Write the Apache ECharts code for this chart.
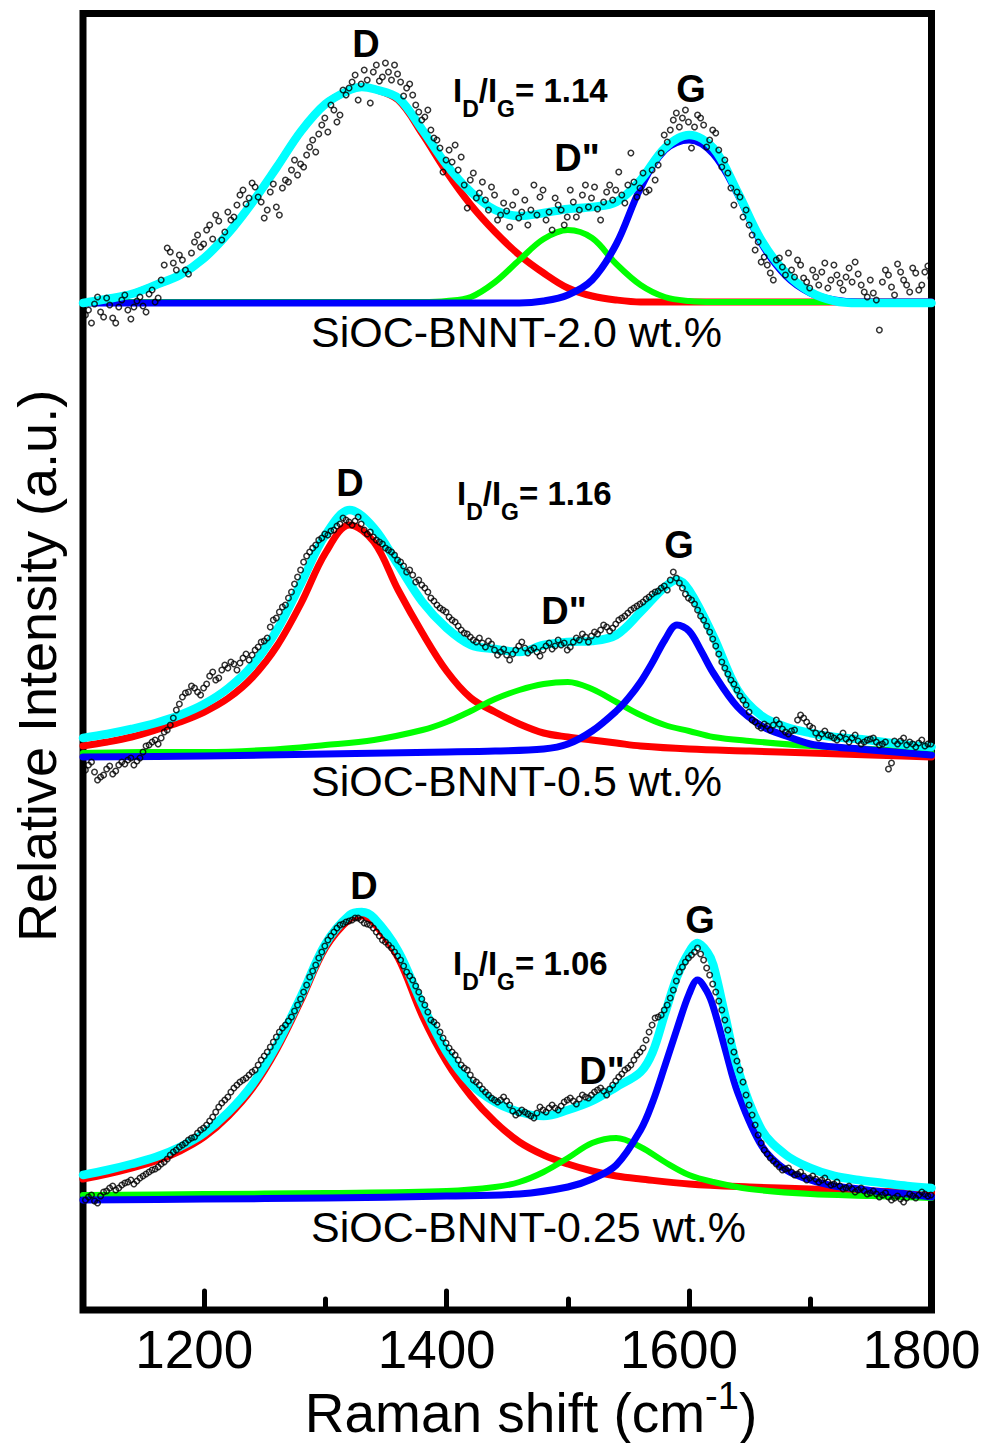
<!DOCTYPE html>
<html><head><meta charset="utf-8">
<script src="https://cdn.jsdelivr.net/npm/echarts@6/dist/echarts.min.js"></script>
<style>html,body{margin:0;padding:0;background:#fff}#c{width:985px;height:1443px}</style>
</head><body><div id="c"></div><script>
// ---------- DATA (Raman shift in cm-1, stacked intensity in a.u.) ----------
const majorTicks = [1200, 1400, 1600];
const minorTicks = [1300, 1500, 1700];
const tickLabels = [1200, 1400, 1600, 1800];

// measured wavenumbers, first and second interleaved sets (shared by all three spectra)
const ramanShift = [
1102,1107,1112,1117,1122,1127,1132,1137,1142,1147,
1152,1157,1162,1167,1172,1177,1182,1187,1192,1197,
1202,1207,1212,1217,1222,1227,1232,1237,1242,1247,
1252,1257,1262,1267,1272,1277,1282,1287,1292,1297,
1302,1307,1312,1317,1322,1327,1332,1337,1342,1347,
1352,1357,1362,1367,1372,1377,1382,1387,1392,1397,
1402,1407,1412,1417,1422,1427,1432,1437,1442,1447,
1452,1457,1462,1467,1472,1477,1482,1487,1492,1497,
1502,1507,1512,1517,1522,1527,1532,1537,1542,1547,
1552,1557,1562,1567,1572,1577,1582,1587,1592,1597,
1602,1607,1612,1617,1622,1627,1632,1637,1642,1647,
1652,1657,1662,1667,1672,1677,1682,1687,1692,1697,
1702,1707,1712,1717,1722,1727,1732,1737,1742,1747,
1752,1757,1762,1767,1772,1777,1782,1787,1792,1797];
const ramanShiftB = [
1104.5,1109.5,1114.5,1119.5,1124.5,1129.5,1134.5,1139.5,1144.5,1149.5,
1154.5,1159.5,1164.5,1169.5,1174.5,1179.5,1184.5,1189.5,1194.5,1199.5,
1204.5,1209.5,1214.5,1219.5,1224.5,1229.5,1234.5,1239.5,1244.5,1249.5,
1254.5,1259.5,1264.5,1269.5,1274.5,1279.5,1284.5,1289.5,1294.5,1299.5,
1304.5,1309.5,1314.5,1319.5,1324.5,1329.5,1334.5,1339.5,1344.5,1349.5,
1354.5,1359.5,1364.5,1369.5,1374.5,1379.5,1384.5,1389.5,1394.5,1399.5,
1404.5,1409.5,1414.5,1419.5,1424.5,1429.5,1434.5,1439.5,1444.5,1449.5,
1454.5,1459.5,1464.5,1469.5,1474.5,1479.5,1484.5,1489.5,1494.5,1499.5,
1504.5,1509.5,1514.5,1519.5,1524.5,1529.5,1534.5,1539.5,1544.5,1549.5,
1554.5,1559.5,1564.5,1569.5,1574.5,1579.5,1584.5,1589.5,1594.5,1599.5,
1604.5,1609.5,1614.5,1619.5,1624.5,1629.5,1634.5,1639.5,1644.5,1649.5,
1654.5,1659.5,1664.5,1669.5,1674.5,1679.5,1684.5,1689.5,1694.5,1699.5,
1704.5,1709.5,1714.5,1719.5,1724.5,1729.5,1734.5,1739.5,1744.5,1749.5,
1754.5,1759.5,1764.5,1769.5,1774.5,1779.5,1784.5,1789.5,1794.5,1799.5];

// SiOC-BNNT-2.0 wt.% (top)
const measured20 = [
995,987,1013,993,1005,987,1010,1000,1003,1013,
998,1020,1012,1045,1058,1040,1050,1036,1068,1063,
1080,1071,1089,1078,1090,1105,1120,1112,1123,1108,
1100,1126,1095,1130,1140,1135,1143,1163,1158,1185,
1178,1200,1195,1215,1228,1210,1240,1207,1245,1233,
1238,1245,1228,1222,1215,1198,1193,1180,1170,1138,
1160,1165,1153,1102,1137,1117,1110,1123,1090,1107,
1083,1118,1098,1085,1125,1113,1090,1080,1105,1085,
1120,1093,1115,1103,1123,1090,1118,1110,1138,1107,
1157,1113,1137,1120,1130,1157,1168,1190,1183,1200,
1162,1195,1185,1170,1177,1143,1137,1105,1113,1100,
1075,1068,1053,1037,1050,1043,1057,1033,1045,1028,
1040,1025,1047,1030,1035,1020,1042,1048,1025,1013,
1017,980,1040,1023,1046,1030,1018,1037,1025,1044];
const measured20B = [
1000,1006,998,1012,992,1003,1015,991,1009,1004,
1016,1008,1030,1062,1047,1055,1040,1057,1075,1066,
1085,1095,1070,1098,1093,1115,1106,1127,1113,1092,
1118,1103,1122,1128,1150,1146,1155,1170,1176,1192,
1205,1188,1220,1222,1235,1226,1230,1238,1229,1247,
1230,1236,1214,1226,1205,1190,1200,1172,1162,1150,
1148,1140,1125,1130,1112,1128,1100,1115,1095,1099,
1105,1092,1110,1100,1095,1120,1098,1112,1100,1093,
1108,1100,1125,1112,1101,1108,1125,1120,1115,1125,
1128,1122,1118,1140,1145,1175,1180,1197,1192,1188,
1183,1192,1163,1180,1160,1150,1122,1118,1093,1085,
1060,1048,1045,1030,1052,1035,1040,1050,1032,1022,
1033,1038,1022,1045,1027,1033,1028,1036,1018,1030,
1010,1028,1035,1015,1038,1025,1042,1020,1038,1032];
const fitD_20 = [[1100,1007],[1120,1011],[1140,1016],[1160,1025],[1180,1035],[1200,1052],[1220,1077],[1240,1108],[1260,1143],[1280,1179],[1300,1206],[1320,1220],[1330,1223],[1340,1221],[1360,1210],[1380,1176],[1400,1138],[1420,1105],[1440,1078],[1460,1055],[1480,1037],[1500,1022],[1520,1014],[1540,1010],[1560,1008],[1600,1008],[1700,1008],[1800,1008]];
const fitDpp_20 = [[1100,1008],[1200,1008],[1300,1008],[1380,1008],[1400,1009],[1420,1013],[1440,1028],[1460,1050],[1480,1071],[1500,1080],[1520,1072],[1540,1046],[1560,1025],[1580,1013],[1600,1009],[1620,1008],[1700,1008],[1800,1008]];
const fitG_20 = [[1100,1007],[1200,1007],[1300,1007],[1400,1007],[1460,1007],[1480,1009],[1500,1015],[1520,1030],[1540,1066],[1560,1122],[1580,1160],[1600,1170],[1620,1156],[1640,1116],[1660,1066],[1680,1034],[1700,1017],[1720,1010],[1740,1008],[1800,1008]];
const fitSum_20 = [[1100,1007],[1120,1011],[1140,1016],[1160,1025],[1180,1035],[1200,1052],[1220,1077],[1240,1108],[1260,1143],[1280,1179],[1300,1206],[1320,1220],[1330,1223],[1340,1221],[1360,1212],[1380,1180],[1400,1145],[1420,1118],[1440,1100],[1460,1094],[1480,1097],[1500,1101],[1520,1103],[1540,1108],[1560,1130],[1580,1162],[1600,1175],[1620,1162],[1640,1118],[1660,1069],[1680,1037],[1700,1018],[1720,1009],[1740,1007],[1760,1007],[1780,1007],[1800,1007]];

// SiOC-BNNT-0.5 wt.% (middle)
const measured05 = [
540,548,530,535,544,539,548,550,545,552,
564,568,566,578,585,600,613,618,622,615,
626,638,632,645,648,640,652,650,660,668,
672,690,698,705,718,733,748,758,765,772,
775,780,786,790,785,793,780,778,770,766,
760,755,748,738,735,730,722,712,705,700,
693,688,680,676,670,672,663,666,655,661,
650,660,668,657,662,654,664,661,670,667,
663,672,676,668,678,680,683,682,690,694,
700,704,708,713,718,722,720,738,727,716,
710,700,690,678,664,648,636,626,614,605,
590,584,586,580,590,581,576,580,595,588,
582,572,579,574,570,577,568,575,566,570,
572,565,568,547,566,572,568,563,570,566];
const measured05B = [
545,538,533,541,536,545,546,552,549,558,
565,570,572,580,592,606,617,624,618,622,
634,630,640,642,646,647,656,655,663,669,
683,692,703,712,726,740,754,762,770,776,
779,784,792,788,789,786,776,773,768,762,
758,750,744,740,728,725,718,709,702,698,
690,684,677,673,668,667,669,660,658,655,
656,664,662,660,658,660,667,664,665,660,
668,670,673,674,676,685,679,686,692,697,
702,706,711,716,719,724,730,732,722,712,
706,694,684,671,656,642,630,620,610,598,
588,582,584,585,586,578,579,590,592,584,
577,576,575,572,573,571,572,569,568,571,
568,566,541,569,569,565,566,567,564,566];
const fitD_05 = [[1100,564],[1120,568],[1140,573],[1160,580],[1180,588],[1200,598],[1220,612],[1240,633],[1260,664],[1280,707],[1300,757],[1320,785],[1340,768],[1360,720],[1380,677],[1400,639],[1420,612],[1440,598],[1460,586],[1480,577],[1500,573],[1520,570],[1540,567],[1560,564],[1600,561],[1650,559],[1700,557],[1750,555],[1800,553]];
const fitDpp_05 = [[1100,557],[1150,558],[1200,558],[1250,560],[1300,565],[1340,570],[1380,580],[1400,588],[1420,599],[1440,611],[1460,620],[1480,626],[1500,628],[1520,621],[1540,608],[1560,595],[1580,585],[1600,579],[1620,573],[1650,569],[1700,564],[1750,561],[1800,557]];
const fitG_05 = [[1100,553],[1200,554],[1300,556],[1400,558],[1440,559],[1480,561],[1500,566],[1520,579],[1540,599],[1550,612],[1560,628],[1570,648],[1580,670],[1590,685],[1600,679],[1610,659],[1620,637],[1640,603],[1660,584],[1680,574],[1700,566],[1720,563],[1740,561],[1760,559],[1780,557],[1800,555]];
const fitSum_05 = [[1100,572],[1120,576],[1140,581],[1160,587],[1180,595],[1200,606],[1220,622],[1240,645],[1260,680],[1280,727],[1300,775],[1320,800],[1340,782],[1360,745],[1380,708],[1400,682],[1420,665],[1440,661],[1460,658],[1480,665],[1500,668],[1520,669],[1540,675],[1560,698],[1580,723],[1590,730],[1600,720],[1620,674],[1640,620],[1660,594],[1680,583],[1700,577],[1720,573],[1740,571],[1760,568],[1780,565],[1800,563]];

// SiOC-BNNT-0.25 wt.% (bottom)
const measured025 = [
110,115,107,118,122,120,125,128,126,132,
136,140,143,148,155,160,165,170,173,180,
185,193,203,210,218,225,230,235,240,250,
258,268,278,285,293,305,318,333,345,358,
370,378,385,388,390,392,387,385,378,370,
365,358,350,338,330,318,305,290,285,272,
262,255,245,240,230,225,218,212,208,213,
205,195,200,196,192,203,198,205,200,208,
212,206,215,212,218,222,215,225,233,240,
245,255,262,278,292,295,305,320,338,348,
355,362,350,335,318,300,280,258,240,215,
195,175,160,152,146,140,142,135,138,130,
134,128,132,125,128,121,124,118,122,116,
119,113,117,110,114,108,116,112,118,114];
const measured025B = [
113,109,114,119,124,122,127,130,129,134,
138,141,146,151,158,163,167,172,177,182,
189,198,207,213,222,228,232,238,245,254,
263,273,282,289,299,311,325,339,352,364,
374,382,386,389,392,390,386,382,374,368,
362,354,344,334,324,311,298,288,278,267,
258,250,242,235,228,221,215,210,210,209,
199,197,198,194,197,200,202,202,204,210,
209,211,213,215,220,219,221,229,236,242,
250,258,270,285,293,300,312,329,343,352,
358,356,342,326,309,290,269,249,228,205,
185,167,156,149,143,141,138,136,134,132,
131,130,128,126,124,122,121,120,119,117,
116,115,113,112,111,112,114,115,116,115];
const fitD_025 = [[1100,131],[1120,136],[1140,142],[1160,149],[1180,159],[1200,173],[1220,194],[1240,222],[1260,261],[1280,310],[1300,362],[1320,391],[1330,394],[1340,387],[1360,352],[1380,294],[1400,248],[1420,214],[1440,188],[1460,168],[1480,155],[1500,146],[1520,139],[1540,134],[1560,131],[1600,126],[1650,123],[1700,121],[1750,119],[1800,117]];
const fitDpp_025 = [[1100,115],[1200,116],[1300,117],[1400,119],[1440,123],[1460,128],[1480,138],[1500,152],[1520,167],[1540,172],[1560,163],[1580,148],[1600,135],[1620,128],[1650,121],[1700,116],[1750,114],[1800,112]];
const fitG_025 = [[1100,110],[1200,111],[1300,112],[1400,114],[1460,116],[1500,123],[1520,131],[1540,145],[1560,180],[1570,208],[1580,244],[1590,281],[1600,316],[1607,330],[1615,318],[1620,303],[1630,260],[1640,218],[1660,164],[1680,140],[1700,130],[1720,124],[1740,121],[1760,118],[1780,116],[1800,113]];
const fitSum_025 = [[1100,135],[1120,140],[1140,146],[1160,153],[1180,163],[1200,177],[1220,198],[1240,226],[1260,265],[1280,314],[1300,366],[1320,395],[1330,398],[1340,392],[1360,359],[1380,305],[1400,258],[1420,226],[1440,208],[1460,198],[1480,194],[1500,200],[1520,209],[1540,223],[1560,238],[1570,258],[1580,296],[1590,333],[1600,358],[1607,367],[1615,358],[1620,345],[1630,293],[1640,242],[1660,180],[1680,155],[1700,142],[1720,134],[1740,130],[1760,127],[1780,124],[1800,122]];

const sampleNames = ['SiOC-BNNT-2.0 wt.%', 'SiOC-BNNT-0.5 wt.%', 'SiOC-BNNT-0.25 wt.%'];
const ratios = ['1.14', '1.16', '1.06'];

// ---------- CHART ----------
const FONT = "'Liberation Sans', Arial, Helvetica, sans-serif";
const chart = echarts.init(document.getElementById('c'), null, {renderer: 'svg'});

const panels = [
  {meas: measured20, measB: measured20B, d: fitD_20, dpp: fitDpp_20, g: fitG_20, sum: fitSum_20},
  {meas: measured05, measB: measured05B, d: fitD_05, dpp: fitDpp_05, g: fitG_05, sum: fitSum_05},
  {meas: measured025, measB: measured025B, d: fitD_025, dpp: fitDpp_025, g: fitG_025, sum: fitSum_025}
];

const series = [];
function line(data, color, width, z) {
  return {type: 'line', data: data, smooth: 0.35, showSymbol: false, symbol: 'none', silent: true,
    lineStyle: {color: color, width: width, cap: 'round', join: 'round'}, z: z, xAxisIndex: 0, yAxisIndex: 0};
}
panels.forEach(p => {
  series.push(line(p.d, '#ff0000', 7, 3));
  series.push(line(p.dpp, '#00ff00', 6, 3));
  series.push(line(p.g, '#0000ff', 7, 4));
  series.push(line(p.sum, '#00ffff', 8.5, 5));
  const pts = ramanShift.map((x, i) => [x, p.meas[i]]).concat(ramanShiftB.map((x, i) => [x, p.measB[i]]));
  series.push({type: 'scatter', data: pts, symbol: 'circle', symbolSize: 5.5,
    silent: true, itemStyle: {color: 'rgba(255,255,255,0)', borderColor: '#000', borderWidth: 1.5}, z: 6,
    xAxisIndex: 0, yAxisIndex: 0});
});

// text layout (pixel positions)
const peakLabelPos = [
  [[366, 44, 'D'], [691, 89, 'G'], [577, 158, 'D"']],
  [[350, 483, 'D'], [679, 545, 'G'], [564, 611, 'D"']],
  [[364, 886, 'D'], [700, 920, 'G'], [602, 1071, 'D"']]
];
const ratioPos = [[453, 74], [457, 477], [453, 947]];
const namePos = [[311, 332], [311, 781], [311, 1227]];

const graphic = [];
peakLabelPos.forEach(arr => arr.forEach(([x, y, t]) => graphic.push({
  type: 'text', x: x, y: y, silent: true,
  style: {text: t, fill: '#000', fontSize: 38, fontWeight: 'bold', fontFamily: FONT, align: 'center', verticalAlign: 'middle'}
})));
ratioPos.forEach(([x, y], i) => graphic.push({
  type: 'text', x: x, y: y, silent: true,
  style: {text: '{m|I}{s|D}{m|/I}{s|G}{m|= ' + ratios[i] + '}', align: 'left', verticalAlign: 'top',
    rich: {
      m: {fontSize: 33, fontWeight: 'bold', fontFamily: FONT, fill: '#000', lineHeight: 33, verticalAlign: 'top'},
      s: {fontSize: 23, fontWeight: 'bold', fontFamily: FONT, fill: '#000', lineHeight: 46, verticalAlign: 'bottom'}
    }}
}));
namePos.forEach(([x, y], i) => graphic.push({
  type: 'text', x: x, y: y, silent: true,
  style: {text: sampleNames[i], fill: '#000', fontSize: 43, fontFamily: FONT, align: 'left', verticalAlign: 'middle'}
}));
// axis titles
graphic.push({
  type: 'text', x: 531, y: 1377, silent: true,
  style: {text: '{a|Raman shift (cm}{b|-1}{a|)}', align: 'center', verticalAlign: 'top',
    rich: {
      a: {fontSize: 55, fontFamily: FONT, fill: '#000', lineHeight: 72, verticalAlign: 'middle'},
      b: {fontSize: 38, fontFamily: FONT, fill: '#000', lineHeight: 38, verticalAlign: 'top'}
    }}
});
graphic.push({
  type: 'text', x: 37, y: 666, rotation: Math.PI / 2, silent: true,
  style: {text: 'Relative Intensity (a.u.)', fill: '#000', fontSize: 54, fontFamily: FONT, align: 'center', verticalAlign: 'middle'}
});

const baseX = {type: 'value', min: 1100, max: 1800, interval: 100, position: 'bottom', gridIndex: 0, offset: 0,
  axisLine: {show: false}, splitLine: {show: false}};

chart.setOption({
  animation: false,
  backgroundColor: '#fff',
  grid: {left: 83, right: 53.5, top: 13.5, bottom: 133, show: true, borderColor: '#000', borderWidth: 7, containLabel: false},
  xAxis: [
    Object.assign({}, baseX, {
      axisTick: {show: true, inside: true, length: 19, customValues: majorTicks, lineStyle: {color: '#000', width: 5, cap: 'round'}},
      axisLabel: {show: true, customValues: tickLabels, formatter: v => String(v), fontSize: 53, fontFamily: FONT,
        color: '#000', margin: 13, padding: [0, 20, 0, 0]}
    }),
    Object.assign({}, baseX, {
      axisTick: {show: true, inside: true, length: 11, customValues: minorTicks, lineStyle: {color: '#000', width: 5, cap: 'round'}},
      axisLabel: {show: false}
    })
  ],
  yAxis: {type: 'value', min: 0, max: 1296.5, show: false, splitLine: {show: false}},
  series: series,
  graphic: graphic
});
</script></body></html>
